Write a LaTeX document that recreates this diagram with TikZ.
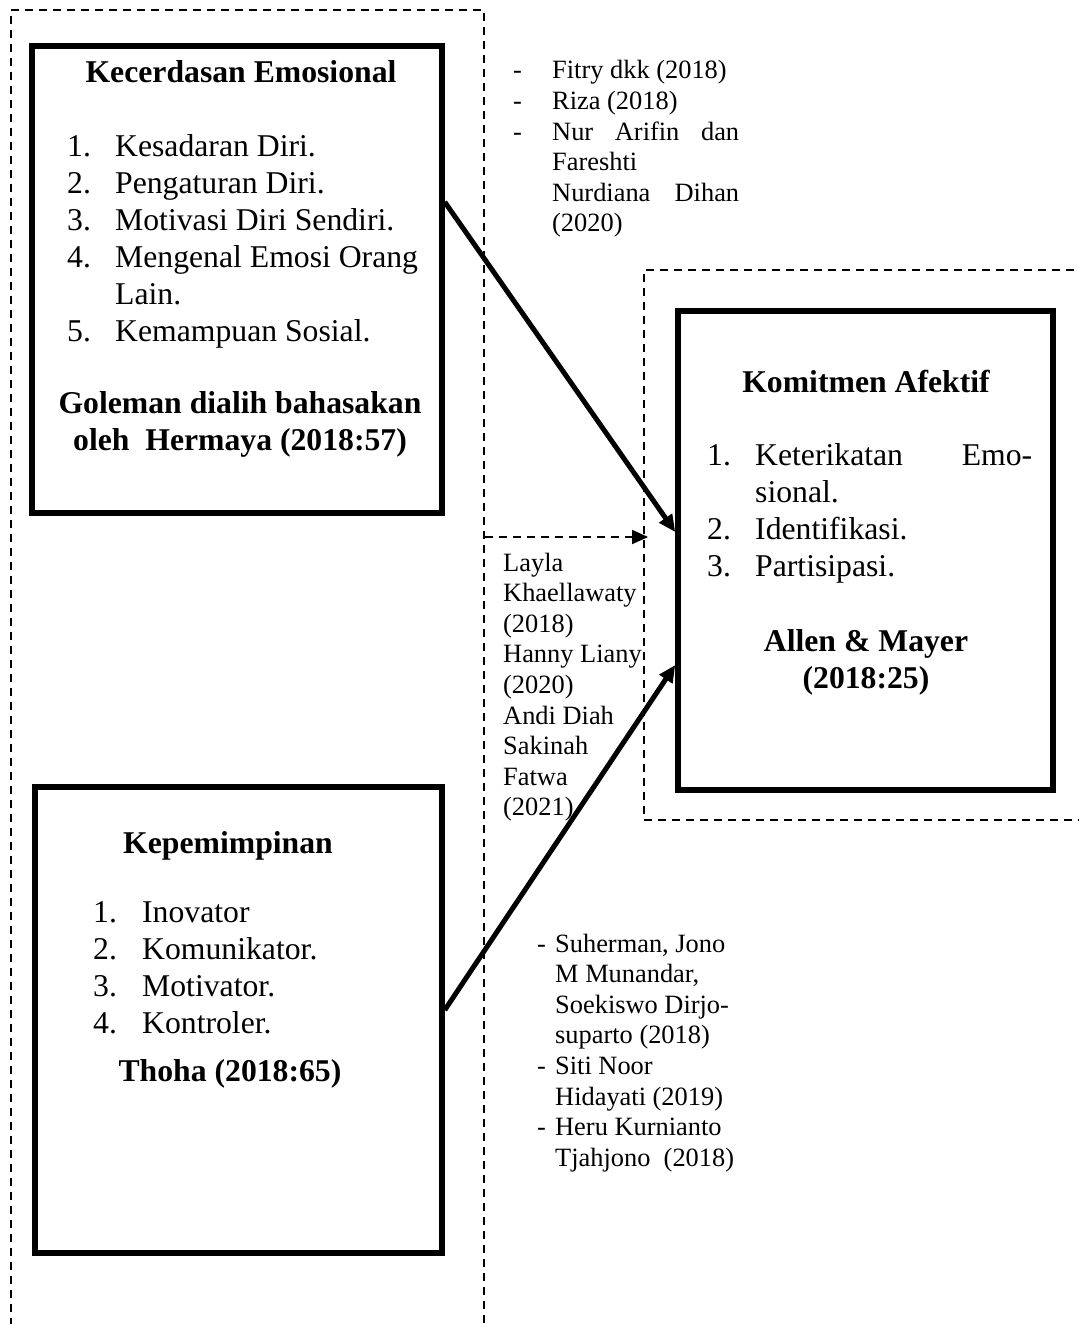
\documentclass[tikz,border=0pt]{standalone}
\usepackage{fontspec}
\setmainfont{Liberation Serif}
\usepackage{tikz}
\usetikzlibrary{arrows.meta}
\newcommand{\bigsize}{\fontsize{31.7pt}{37pt}\selectfont}
\newcommand{\smallsize}{\fontsize{26.4pt}{30.6pt}\selectfont}

\begin{document}
\begin{tikzpicture}[x=1pt, y=-1pt, every node/.style={inner sep=0pt},
  varbox/.style={draw, line width=5.5pt, minimum width=410pt, minimum height=467pt},
  groupbox/.style={draw, line width=1.8pt, dash pattern=on 8pt off 6pt},
  headtext/.style={font=\bigsize\bfseries, anchor=base},
  listtext/.style={font=\bigsize, anchor=base west},
  reftext/.style={font=\smallsize, anchor=base west},
  mainarrow/.style={line width=5pt, -{Triangle[length=17pt,width=15pt]}},
  dasharrow/.style={line width=1.8pt, dash pattern=on 8pt off 6pt, -{Triangle[length=16pt,width=14pt]}}]
  \path[fill=white] (0,0) rectangle (1078,1324);
  \useasboundingbox (0,0) rectangle (1078,1324);
  % dashed groups  (y axis inverted, pixel units)
  \node[groupbox, minimum width=473pt, minimum height=1330pt] (outer) at (247.5,675) {};
  \node[groupbox, minimum width=451pt, minimum height=550pt] (grp) at (869.5,545) {};
  % variable boxes
  \node[varbox] (kecerdasan) at (237,279.5) {};
  \node[varbox, minimum width=407pt, minimum height=466pt] (kepemimpinan) at (238.5,1020) {};
  \node[varbox, minimum width=375pt, minimum height=479pt] (komitmen) at (865.5,550.5) {};
  % X1 box text
  \node[headtext] (ke-title) at (241,83) {Kecerdasan Emosional};
  \node[listtext] (ke-list) at (67,157) {\begin{tabular}[t]{@{}p{48pt}@{}l@{}}
    1. & Kesadaran Diri.\\
    2. & Pengaturan Diri.\\
    3. & Motivasi Diri Sendiri.\\
    4. & Mengenal Emosi Orang\\
       & Lain.\\
    5. & Kemampuan Sosial.\end{tabular}};
  \node[headtext] (ke-ref) at (240,413) {\begin{tabular}[t]{@{}c@{}}
    Goleman dialih bahasakan\\ oleh\ \ Hermaya (2018:57)\end{tabular}};
  % X2 box text
  \node[headtext] (kp-title) at (228,853) {Kepemimpinan};
  \node[listtext] (kp-list) at (93,922) {\begin{tabular}[t]{@{}p{49pt}@{}l@{}}
    1. & Inovator\\
    2. & Komunikator.\\
    3. & Motivator.\\
    4. & Kontroler.\end{tabular}};
  \node[headtext] (kp-ref) at (230,1081) {Thoha (2018:65)};
  % Y box text
  \node[headtext] (ko-title) at (866,392) {Komitmen Afektif};
  \node[listtext] (ko-list) at (707,465) {\begin{tabular}[t]{@{}p{48pt}@{}l@{}}
    1. & \makebox[277pt][s]{Keterikatan Emo-}\\
       & sional.\\
    2. & Identifikasi.\\
    3. & Partisipasi.\end{tabular}};
  \node[headtext] (ko-ref) at (866,651) {\begin{tabular}[t]{@{}c@{}}
    Allen \& Mayer\\ (2018:25)\end{tabular}};
  % previous studies
  \node[reftext] (ref-x1) at (513,79) {\begin{tabular}[t]{@{}p{39pt}@{}l@{}}
    - & Fitry dkk (2018)\\
    - & Riza (2018)\\
    - & \makebox[187pt][s]{Nur Arifin dan}\\
      & Fareshti\\
      & \makebox[187pt][s]{Nurdiana Dihan}\\
      & (2020)\end{tabular}};
  \node[reftext] (ref-x1x2) at (503,571) {\begin{tabular}[t]{@{}l@{}}
    Layla\\ Khaellawaty\\ (2018)\\ Hanny Liany\\ (2020)\\
    Andi Diah\\ Sakinah\\ Fatwa\\ (2021)\end{tabular}};
  \node[reftext] (ref-x2) at (537,952) {\begin{tabular}[t]{@{}p{18pt}@{}l@{}}
    - & Suherman, Jono\\
      & M Munandar,\\
      & Soekiswo Dirjo-\\
      & suparto (2018)\\
    - & Siti Noor\\
      & Hidayati (2019)\\
    - & Heru Kurnianto\\
      & Tjahjono\ \ (2018)\end{tabular}};
  % connectors
  \draw[mainarrow] ([yshift=77.5pt]kecerdasan.east) -- ([yshift=18.5pt]komitmen.west);
  \draw[mainarrow] ([yshift=10pt]kepemimpinan.east) -- ([yshift=-114.5pt]komitmen.west);
  \coordinate (dash-end) at ([xshift=5pt,yshift=8pt]grp.west);
  \draw[dasharrow] (dash-end -| outer.east) -- (dash-end);
\end{tikzpicture}
\end{document}
